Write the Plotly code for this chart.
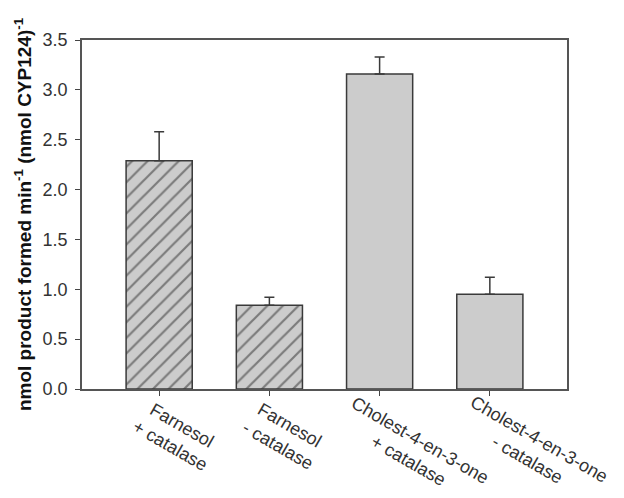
import plotly.graph_objects as go

categories = ["Farnesol + catalase", "Farnesol - catalase",
              "Cholest-4-en-3-one + catalase", "Cholest-4-en-3-one - catalase"]
tick_labels = ["Farnesol<br>+ catalase", "Farnesol<br>- catalase",
               "Cholest-4-en-3-one<br>+ catalase",
               "Cholest-4-en-3-one<br>- catalase"]
values = [2.29, 0.84, 3.16, 0.95]
errors = [0.29, 0.08, 0.17, 0.17]
hatched = [True, True, False, False]
y_ticks = [0.0, 0.5, 1.0, 1.5, 2.0, 2.5, 3.0, 3.5]

x_pos = list(range(len(categories)))

# pixel offsets of rotated category label centres from their tick (styling only)
label_dx = [17, 15, 35, 44]
label_dy = [46, 46, 61, 60]

FONT = "Liberation Sans, Arial, sans-serif"

fig = go.Figure()
fig.add_trace(go.Bar(
    x=x_pos, y=values, width=0.6,
    marker=dict(
        color="#cccccc",
        line=dict(color="#3a3a3a", width=1.5),
        pattern=dict(shape=["/" if h else "" for h in hatched],
                     fgcolor="#2a2a2a", bgcolor="#cccccc", size=11, solidity=0.2),
    ),
    error_y=dict(type="data", symmetric=False, array=errors,
                 arrayminus=[0] * len(errors), color="#3a3a3a",
                 thickness=1.5, width=5),
    showlegend=False,
))

for i, lab in enumerate(tick_labels):
    fig.add_annotation(
        x=x_pos[i], y=0, xref="x", yref="y", text=lab, showarrow=False,
        textangle=30, align="center", xanchor="center", yanchor="middle",
        xshift=label_dx[i], yshift=-label_dy[i],
        font=dict(family=FONT, size=18, color="#333333"),
    )

axis_font = dict(family=FONT, size=18, color="#333333")

fig.update_layout(
    width=616, height=490,
    margin=dict(l=74, r=57, t=32, b=109),
    paper_bgcolor="white", plot_bgcolor="white",
    xaxis=dict(
        range=[-0.7, 3.7], tickmode="array", tickvals=x_pos, showticklabels=False,
        ticks="outside", ticklen=5, tickcolor="#444444", tickwidth=1,
        showline=True, linecolor="#555555", linewidth=1.5, mirror=True,
        showgrid=False, zeroline=False, automargin=False,
    ),
    yaxis=dict(
        range=[0, 3.5], tickmode="array", tickvals=y_ticks,
        ticktext=[f"{v:.1f}" for v in y_ticks],
        ticks="outside", ticklen=5, tickcolor="#444444", tickwidth=1,
        showline=True, linecolor="#555555", linewidth=1.5, mirror=True,
        showgrid=False, zeroline=False, tickfont=axis_font, ticklabelstandoff=4,
        automargin=False,
        title=dict(text="nmol product formed min<sup>-1</sup> (nmol CYP124)<sup>-1</sup>",
                   font=dict(family=FONT, size=19, color="#111111", weight="bold"),
                   standoff=6),
    ),
)

fig.write_html("out.html")
